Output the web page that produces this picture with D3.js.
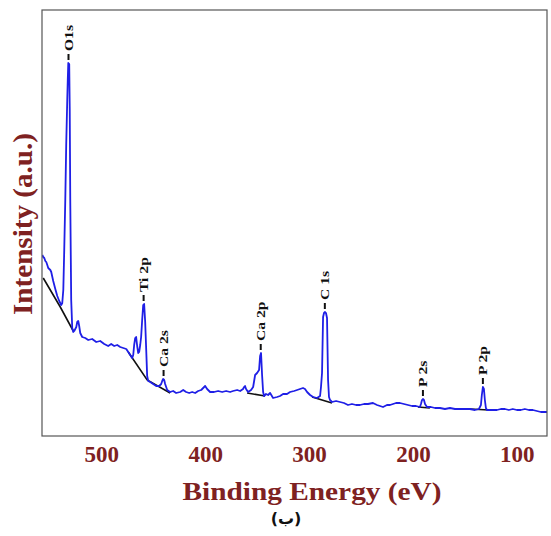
<!DOCTYPE html>
<html>
<head>
<meta charset="utf-8">
<script src="https://cdn.jsdelivr.net/npm/d3@7"></script>
<style>
body { margin: 0; background: #fff; }
</style>
</head>
<body>
<div id="chart-area"></div>
<script>
// survey spectrum, binding energy (eV) vs intensity (a.u.)
var energy = [556.7, 555.8, 554.8, 553.8, 552.9, 551.9, 551.0, 549.0, 548.1, 546.2, 544.2, 542.3, 540.4, 538.5, 537.5,
    536.5, 535.6, 534.6, 533.7, 532.7, 532.2, 531.7, 530.8, 530.3, 529.8, 528.9, 527.9, 526.9, 526.0, 524.0,
    523.1, 522.1, 521.2, 520.2, 518.3, 515.4, 512.5, 508.7, 504.8, 501.0, 497.1, 493.3, 490.4, 487.5, 484.6,
    481.7, 478.8, 475.9, 474.0, 472.1, 470.2, 469.2, 468.3, 467.3, 466.4, 465.4, 464.4, 463.5, 462.5, 461.6,
    460.6, 459.6, 458.7, 457.7, 456.7, 455.8, 454.8, 452.9, 450.0, 447.1, 444.2, 442.3, 441.3, 440.4, 439.4,
    438.5, 436.5, 433.7, 430.8, 427.9, 424.0, 421.1, 418.3, 415.4, 412.5, 409.6, 406.7, 403.8, 401.9, 400.0,
    398.1, 395.2, 391.4, 387.5, 383.6, 379.8, 376.0, 373.1, 369.2, 366.3, 363.5, 362.5, 361.6, 360.6, 358.7,
    355.8, 353.8, 351.9, 350.0, 348.1, 347.1, 346.2, 345.2, 344.2, 343.3, 341.4, 339.4, 337.5, 334.6, 330.8,
    327.9, 325.0, 321.2, 318.3, 314.4, 311.5, 308.7, 305.8, 303.9, 301.9, 299.0, 296.1, 292.3, 289.4, 288.5,
    287.5, 286.5, 285.6, 284.6, 283.7, 282.7, 281.7, 280.8, 279.8, 277.9, 274.0, 270.2, 266.4, 262.5, 258.7,
    254.8, 251.0, 247.1, 243.3, 238.5, 234.6, 231.7, 228.8, 225.0, 222.1, 219.2, 216.3, 212.5, 208.7, 204.8,
    200.9, 197.1, 193.3, 192.3, 191.3, 190.4, 189.4, 188.4, 186.5, 182.7, 178.8, 174.0, 169.2, 164.4, 159.6,
    154.8, 150.0, 145.2, 140.4, 136.5, 134.6, 133.7, 132.7, 131.7, 130.8, 129.8, 128.8, 126.0, 123.1, 119.2,
    115.4, 111.5, 107.7, 103.9, 100.0, 96.2, 92.3, 88.5, 84.6, 80.8, 76.9, 73.1, 69.2];

var intensity = [1810, 1790, 1780, 1750, 1740, 1710, 1680, 1660, 1640, 1550, 1470, 1400, 1350, 1310, 1330,
    1460, 1860, 2360, 2910, 3360, 3560, 3730, 3720, 3260, 2360, 1360, 1080, 1040, 1050, 1090,
    1140, 1150, 1100, 1030, 990, 980, 960, 970, 940, 950, 920, 900, 920, 900, 910,
    890, 880, 870, 840, 810, 780, 810, 910, 980, 990, 900, 830, 840, 910, 990,
    1160, 1310, 1320, 1140, 860, 600, 550, 540, 520, 500, 500, 520, 550, 570, 560,
    520, 460, 440, 450, 430, 440, 460, 440, 430, 440, 430, 450, 460, 480, 500,
    470, 440, 440, 450, 440, 450, 440, 450, 460, 450, 470, 490, 500, 470, 440,
    460, 490, 610, 630, 660, 800, 830, 610, 440, 400, 420, 410, 430, 380, 390,
    400, 420, 420, 440, 450, 460, 470, 480, 470, 440, 410, 390, 380, 400, 490,
    630, 1190, 1230, 1240, 1230, 1180, 560, 390, 360, 340, 350, 340, 330, 310, 320,
    310, 310, 320, 320, 330, 310, 300, 290, 310, 310, 320, 330, 330, 320, 310,
    300, 300, 290, 320, 360, 370, 360, 320, 290, 290, 280, 280, 270, 280, 270,
    270, 270, 270, 260, 270, 310, 410, 490, 470, 360, 280, 260, 260, 260, 260,
    270, 270, 260, 270, 260, 260, 270, 260, 260, 250, 240, 240, 240];

// background lines under the peaks
var bgEnergy = [[555.8, 539.4, 526.9], [474.0, 455.8, 433.7], [359.6, 342.3], [297.1, 277.9], [195.2, 183.7], [145.2, 127.0]];
var bgIntensity = [[1580, 1290, 1050], [840, 560, 430], [430, 400], [390, 330], [290, 280], [270, 260]];

var peakNames = ["O1s", "Ti 2p", "Ca 2s", "Ca 2p", "C 1s", "P 2s", "P 2p"];
var peakEnergy = [531.5, 459.2, 440.0, 346.5, 284.8, 190.4, 132.7];

var xTicks = [500, 400, 300, 200, 100];

var width = 551;
var height = 536;
var plot = {left: 42, top: 10, right: 547, bottom: 436};

var serif = '"Liberation Serif", "Times New Roman", serif';
var darkRed = "#7e2121";

var svg = d3.select('#chart-area')
    .append('svg')
    .attr('width', width)
    .attr('height', height);

var x = d3.scaleLinear()
    .domain([557, 71])
    .range([plot.left, plot.right]);

var y = d3.scaleLinear()
    .domain([0, 4260])
    .range([plot.bottom, plot.top]);

svg.append("clipPath")
    .attr("id", "clip")
    .append("rect")
    .attr("x", plot.left)
    .attr("y", plot.top)
    .attr("width", plot.right - plot.left)
    .attr("height", plot.bottom - plot.top);

var spectrum = energy.map((e, i) => ({e: e, v: intensity[i]}));

var line = d3.line()
    .x((d) => x(d.e))
    .y((d) => y(d.v));

var plotArea = svg.append("g").attr("clip-path", "url(#clip)");

plotArea.selectAll(".bg")
    .data(bgEnergy.map((es, k) => es.map((e, i) => ({e: e, v: bgIntensity[k][i]}))))
    .enter()
    .append("path")
    .attr("class", "bg")
    .attr("d", line)
    .attr("fill", "none")
    .attr("stroke", "#111")
    .attr("stroke-width", 1.6);

plotArea.append("path")
    .datum(spectrum)
    .attr("d", line)
    .attr("fill", "none")
    .attr("stroke", "#1f1fe6")
    .attr("stroke-width", 1.8)
    .attr("stroke-linejoin", "round");

// frame
svg.append("rect")
    .attr("x", plot.left)
    .attr("y", plot.top)
    .attr("width", plot.right - plot.left)
    .attr("height", plot.bottom - plot.top)
    .attr("fill", "none")
    .attr("stroke", "#555")
    .attr("stroke-width", 1.2);

// peak labels: dash + tall narrow text, rotated
peakNames.forEach((name, i) => {
    var top = d3.max(spectrum.filter((d) => Math.abs(d.e - peakEnergy[i]) < 2.5), (d) => d.v);
    var px = x(peakEnergy[i]);
    var py = y(top) - 3;
    var lg = svg.append("g")
        .attr("transform", "translate(" + px + "," + py + ") rotate(-90)");
    lg.append("line")
        .attr("x1", 0).attr("x2", 6)
        .attr("y1", 0).attr("y2", 0)
        .attr("stroke", "#111")
        .attr("stroke-width", 2);
    lg.append("text")
        .attr("transform", "translate(9, 0) scale(1.3, 1)")
        .attr("dy", "0.35em")
        .attr("font-family", serif)
        .attr("font-weight", "bold")
        .attr("font-size", "12px")
        .attr("fill", "#111")
        .text(name);
});

var botAxis = d3.axisBottom(x)
    .tickValues(xTicks)
    .tickSize(0)
    .tickPadding(10);

var axisG = svg.append("g")
    .attr("class", "bottom axis")
    .attr("transform", "translate(0, " + plot.bottom + ")")
    .call(botAxis);

axisG.select(".domain").remove();
axisG.selectAll("text")
    .attr("font-family", serif)
    .attr("font-weight", "bold")
    .attr("font-size", "23px")
    .attr("fill", darkRed);

svg.append("text")
    .attr("class", "x axis-label")
    .attr("x", 312)
    .attr("y", 500)
    .attr("text-anchor", "middle")
    .attr("font-family", serif)
    .attr("font-weight", "bold")
    .attr("font-size", "26px")
    .attr("textLength", 259)
    .attr("lengthAdjust", "spacingAndGlyphs")
    .attr("fill", darkRed)
    .text("Binding Energy (eV)");

svg.append("text")
    .attr("class", "y axis-label")
    .attr("transform", "translate(32, 224) rotate(-90)")
    .attr("text-anchor", "middle")
    .attr("font-family", serif)
    .attr("font-weight", "bold")
    .attr("font-size", "27px")
    .attr("textLength", 182)
    .attr("lengthAdjust", "spacingAndGlyphs")
    .attr("fill", darkRed)
    .text("Intensity (a.u.)");

svg.append("text")
    .attr("x", 286)
    .attr("y", 524)
    .attr("text-anchor", "middle")
    .attr("font-family", '"DejaVu Sans", sans-serif')
    .attr("font-weight", "bold")
    .attr("font-size", "16px")
    .attr("fill", "#111")
    .text("(ب)");
</script>
</body>
</html>
